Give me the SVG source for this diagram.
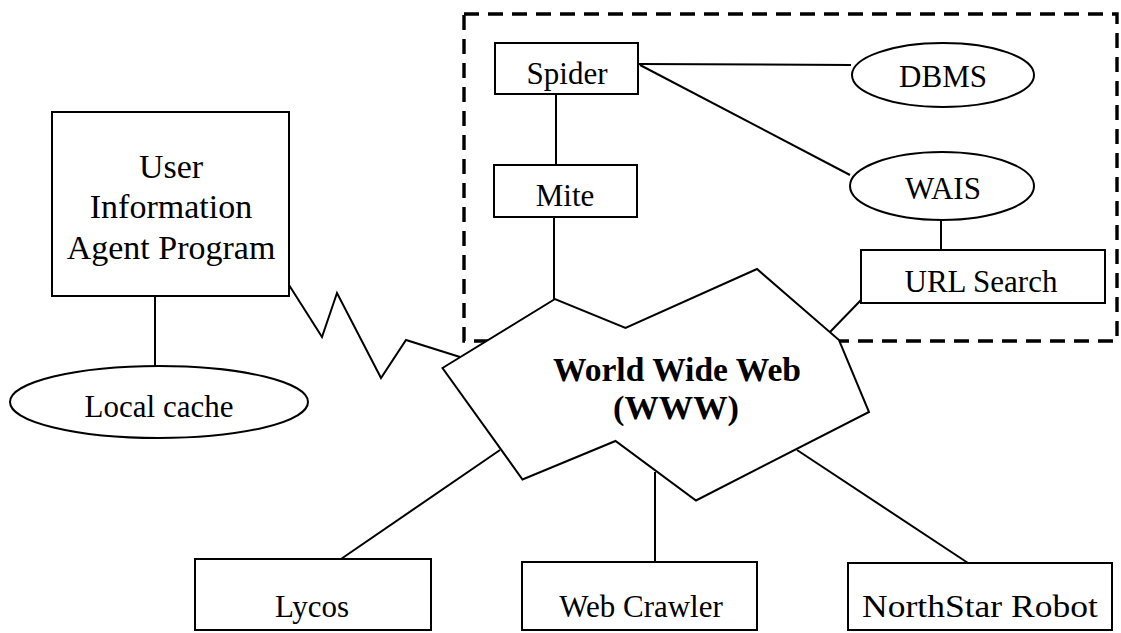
<svg xmlns="http://www.w3.org/2000/svg" width="1121" height="633" viewBox="0 0 1121 633">
  <style>
    .shape { fill: #ffffff; stroke: #000000; stroke-width: 2; }
    .link { fill: none; stroke: #000000; stroke-width: 2; stroke-linejoin: miter; }
    .frame { fill: none; stroke: #000000; stroke-width: 3.4; stroke-dasharray: 15 9; }
    .label { font-family: "Liberation Serif", "Times New Roman", serif; font-size: 31px; fill: #000000; text-anchor: middle; }
    .big { font-size: 34px; }
    .bold { font-weight: bold; font-size: 34px; }
  </style>
  <rect width="1121" height="633" fill="#ffffff"/>

  <!-- search-engine group frame -->
  <rect class="frame" x="464" y="14" width="653" height="327"/>

  <!-- connectors -->
  <g id="connectors">
    <line class="link" x1="155" y1="296" x2="155" y2="367"/>
    <polyline class="link" points="289,285 322,337 337,293 381,378 406,340 460,357"/>
    <line class="link" x1="556" y1="94" x2="556" y2="165"/>
    <line class="link" x1="554" y1="217" x2="554" y2="299"/>
    <line class="link" x1="638" y1="64" x2="851" y2="65"/>
    <line class="link" x1="640" y1="65" x2="850" y2="175"/>
    <line class="link" x1="941" y1="220" x2="941" y2="250"/>
    <line class="link" x1="861" y1="300" x2="830" y2="332"/>
    <line class="link" x1="500" y1="450" x2="341" y2="559"/>
    <line class="link" x1="655" y1="472" x2="655" y2="562"/>
    <line class="link" x1="797" y1="450" x2="968" y2="563"/>
  </g>

  <g id="user-agent">
    <rect class="shape" x="52" y="112" width="237" height="184"/>
    <text class="label big" x="171" y="178">User</text>
    <text class="label big" x="171" y="218">Information</text>
    <text class="label big" x="171" y="259">Agent Program</text>
  </g>

  <g id="local-cache">
    <ellipse class="shape" cx="159" cy="402" rx="149" ry="36"/>
    <text class="label" x="159" y="417">Local cache</text>
  </g>

  <g id="www">
    <polygon class="shape" points="442.5,368 555,299 625.5,328 757,269 839,340 869,412 696,500.5 615.5,441 522.5,479.5"/>
    <text class="label bold" x="677" y="381" textLength="248" lengthAdjust="spacingAndGlyphs">World Wide Web</text>
    <text class="label bold" x="676" y="419" textLength="126" lengthAdjust="spacingAndGlyphs">(WWW)</text>
  </g>

  <g id="spider">
    <rect class="shape" x="495" y="43" width="143" height="51"/>
    <text class="label" x="567" y="84">Spider</text>
  </g>

  <g id="mite">
    <rect class="shape" x="494" y="165" width="143" height="52"/>
    <text class="label" x="565" y="206">Mite</text>
  </g>

  <g id="dbms">
    <ellipse class="shape" cx="943" cy="75" rx="91" ry="32"/>
    <text class="label" x="943" y="87">DBMS</text>
  </g>

  <g id="wais">
    <ellipse class="shape" cx="942" cy="186" rx="92" ry="34"/>
    <text class="label" x="943" y="199">WAIS</text>
  </g>

  <g id="url-search">
    <rect class="shape" x="861" y="250" width="244" height="53"/>
    <text class="label" x="981" y="292">URL Search</text>
  </g>

  <g id="lycos">
    <rect class="shape" x="195" y="559" width="236" height="71"/>
    <text class="label" x="312" y="617">Lycos</text>
  </g>

  <g id="web-crawler">
    <rect class="shape" x="522" y="562" width="235" height="68"/>
    <text class="label" x="641" y="617">Web Crawler</text>
  </g>

  <g id="northstar">
    <rect class="shape" x="848" y="563" width="264" height="67"/>
    <text class="label" x="980" y="617" textLength="236" lengthAdjust="spacingAndGlyphs">NorthStar Robot</text>
  </g>
</svg>
